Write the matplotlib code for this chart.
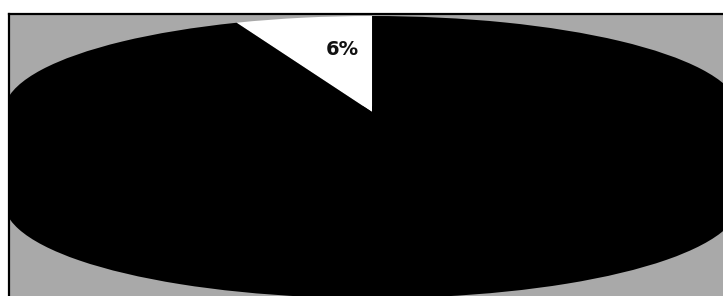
import matplotlib
matplotlib.use("Agg")
import matplotlib.pyplot as plt

# pie data (scanned 3D pie, only the small slice is labelled)
labels = ["Share", "Rest"]
values = [6, 94]
top_colors = ["white", "black"]

# 3D look: the pie is squashed and extruded downwards
depth = 0.94

fig = plt.figure(figsize=(7.23, 2.96), dpi=100)
fig.patch.set_facecolor("white")

# frame axes: top and left border visible, the rest runs off the picture
ax = fig.add_axes([9 / 723, -0.1, 1.0, (296 - 14) / 296 + 0.1])
ax.set_facecolor("#a9a9a9")

# bottom layer + side of the extrusion
bottom, _ = ax.pie(values, colors=["black", "black"], startangle=90,
                   center=(0, -depth), radius=1)
ax.fill_between([-1, 1], -depth, 0, color="black", lw=0)

# top surface
wedges, texts, autotexts = ax.pie(
    values,
    colors=top_colors,
    startangle=90,
    counterclock=True,
    autopct=lambda p: f"{p:.0f}%" if p < 50 else "",
    pctdistance=0.65,
    wedgeprops={"linewidth": 0},
    textprops={"fontsize": 14, "fontweight": "bold", "color": "#111111"},
)
autotexts[0].set_position((-0.08, 0.65))

# pie turns clipping off, the frame cuts the shape in the scan
for w in list(bottom) + list(wedges):
    w.set_clip_on(True)
    w.set_clip_path(ax.patch)

ax.set_aspect("auto")
ax.set_frame_on(True)
ax.set_xlim(-0.9864, 0.978)
ax.set_ylim(-2.225, 1.0208)
ax.set_xticks([])
ax.set_yticks([])
for side in ["top", "left"]:
    ax.spines[side].set_linewidth(1.6)
    ax.spines[side].set_color("black")
for side in ["right", "bottom"]:
    ax.spines[side].set_visible(False)

fig.savefig("out.png", dpi=100, facecolor=fig.get_facecolor())
